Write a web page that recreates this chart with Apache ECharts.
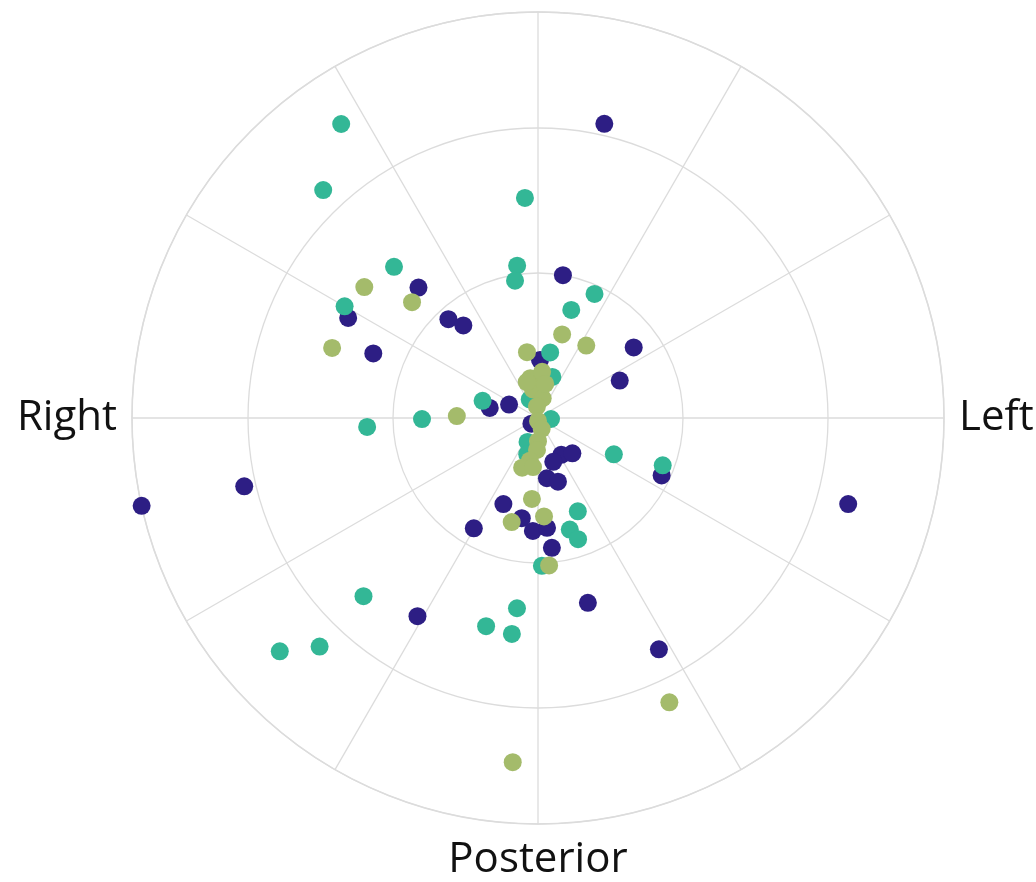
<!DOCTYPE html>
<html>
<head>
<meta charset="utf-8">
<style>
  html, body { margin: 0; padding: 0; background: #ffffff; }
  #chart { width: 1036px; height: 882px; }
</style>
<script src="https://cdn.jsdelivr.net/npm/echarts@6/dist/echarts.min.js"></script>
</head>
<body>
<div id="chart"></div>
<script>
// Direction labels around the circle (angle measured clockwise from the top)
const directionLabels = { 0: 'Anterior', 90: 'Left', 180: 'Posterior', 270: 'Right' };

// Each point: [radius, angle in degrees]
const groupDark = [
  [10.4, 12.7], [6.1, 317.5], [7.4, 297.8], [4.6, 317.8], [4.1, 321.1], [6.1, 291.4],
  [5.0, 9.9], [4.1, 53.6], [3.1, 65.4], [1.1, 294.9], [1.7, 281.8], [2.0, 2.0],
  [0.3, 229.4], [4.7, 114.9], [10.4, 256.9], [14.0, 257.5], [11.1, 105.5],
  [1.5, 147.7], [1.7, 135.8], [1.6, 160.8], [2.1, 171.6], [2.3, 162.6],
  [3.2, 201.9], [4.4, 210.2], [3.5, 189.2], [3.9, 182.6], [3.8, 175.3], [4.5, 173.9],
  [8.0, 211.3], [6.6, 164.9], [9.0, 152.4]
];

const groupTeal = [
  [12.2, 326.2], [10.8, 316.7], [7.6, 356.6], [5.3, 352.2], [4.8, 350.5], [7.2, 316.4],
  [4.7, 24.5], [3.9, 17.1], [7.7, 300.0], [2.3, 10.5], [2.0, 287.2], [4.0, 269.5],
  [5.9, 267.0], [0.45, 94.4], [2.9, 115.6], [4.6, 110.8], [3.5, 156.9], [4.0, 164.1],
  [4.4, 161.7], [5.1, 178.5], [8.6, 224.4], [6.6, 186.3], [7.4, 194.0], [7.5, 186.9],
  [10.9, 223.7], [12.0, 227.9], [1.5, 19.3], [0.7, 336.0], [0.9, 203.7], [1.3, 196.6]
];

const groupGreen = [
  [7.5, 307.0], [5.9, 312.6], [7.5, 288.8], [3.0, 16.1], [3.0, 33.7], [2.3, 350.5],
  [2.8, 271.4], [1.4, 349.0], [1.6, 5.1], [1.0, 349.9], [0.7, 13.4], [0.4, 354.8],
  [0.1, 180.0], [0.4, 161.6], [0.8, 180.0], [1.1, 181.8], [1.5, 190.8], [1.8, 197.7],
  [1.7, 185.8], [1.3, 342.6], [1.2, 12.0], [2.8, 184.3], [3.7, 194.2], [3.4, 176.5],
  [5.1, 175.7], [10.8, 155.2], [11.9, 184.2]
];

const gridColor = '#dcdcdc';

const chart = echarts.init(document.getElementById('chart'), null, { renderer: 'canvas' });

function scatter(name, data, color) {
  return {
    name: name,
    type: 'scatter',
    coordinateSystem: 'polar',
    data: data,
    symbol: 'circle',
    symbolSize: 18,
    itemStyle: { color: color, opacity: 1 },
    emphasis: { disabled: true },
    animation: false
  };
}

chart.setOption({
  backgroundColor: '#ffffff',
  polar: { center: [538, 418], radius: 406 },
  angleAxis: {
    type: 'value',
    min: 0,
    max: 360,
    interval: 30,
    startAngle: 90,
    clockwise: true,
    axisLine: { show: true, lineStyle: { color: gridColor, width: 1.5 } },
    axisTick: { show: false },
    splitLine: { show: true, lineStyle: { color: gridColor, width: 1.3 } },
    axisLabel: {
      show: true,
      margin: 15,
      fontFamily: 'Open Sans',
      fontSize: 42,
      color: '#111111',
      formatter: function (v) { return directionLabels[v] || ''; }
    }
  },
  radiusAxis: {
    type: 'value',
    min: 0,
    max: 14,
    interval: 5,
    axisLine: { show: false },
    axisTick: { show: false },
    axisLabel: { show: false },
    splitLine: { show: true, lineStyle: { color: gridColor, width: 1.3 } }
  },
  series: [
    scatter('Dark', groupDark, '#2d1e84'),
    scatter('Teal', groupTeal, '#33b796'),
    scatter('Green', groupGreen, '#a4bb6b')
  ]
});
</script>
</body>
</html>
